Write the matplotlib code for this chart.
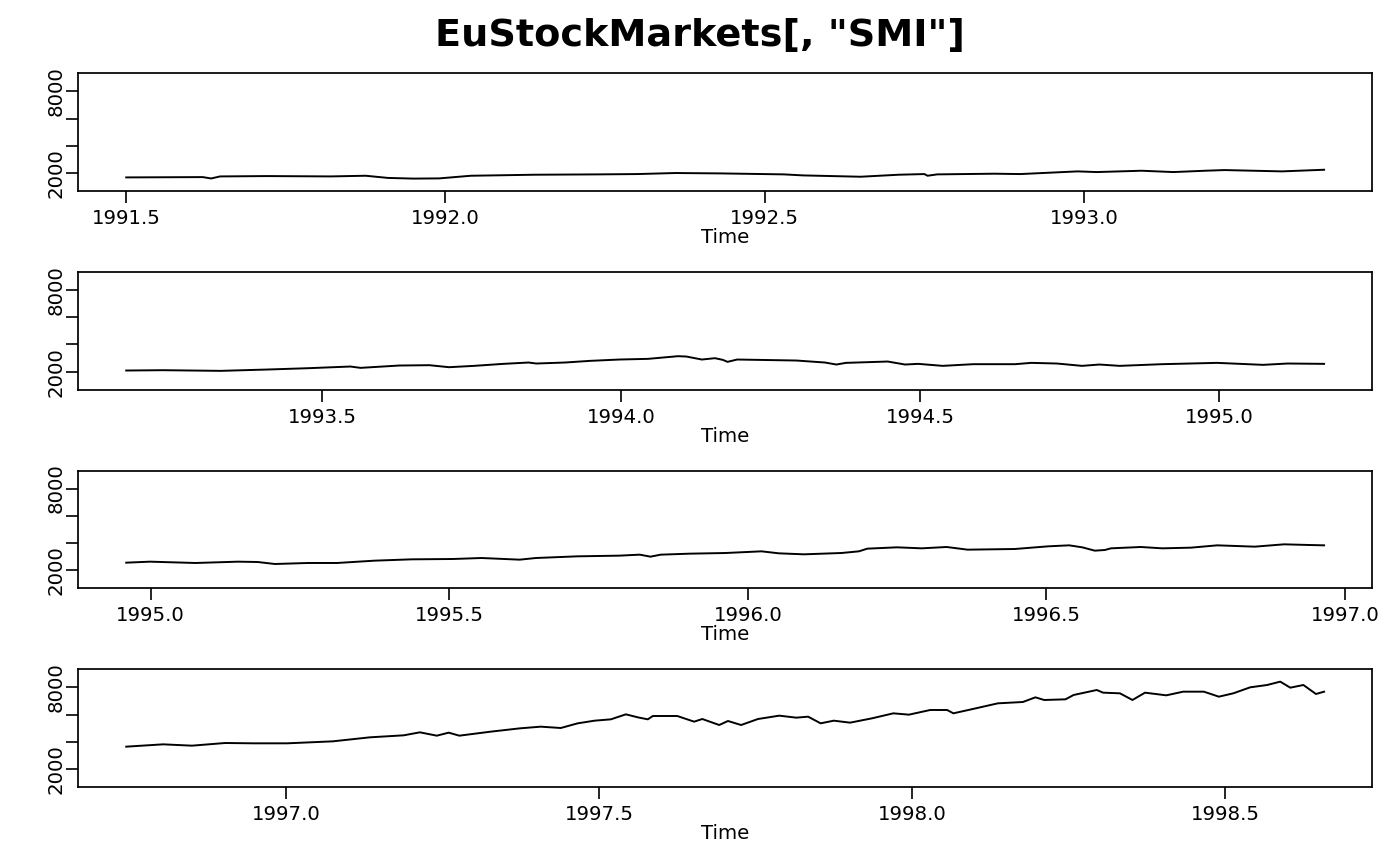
import matplotlib
matplotlib.use('Agg')
import matplotlib.pyplot as plt

# ======================
# DATA (SMI closing values)
# ======================
t1 = [1991.500, 1991.620, 1991.633, 1991.647, 1991.720, 1991.820, 1991.875, 1991.910,
      1991.950, 1991.990, 1992.040, 1992.140, 1992.240, 1992.300, 1992.360, 1992.430,
      1992.530, 1992.560, 1992.650, 1992.710, 1992.750, 1992.755, 1992.770, 1992.860,
      1992.900, 1992.990, 1993.020, 1993.090, 1993.140, 1993.190, 1993.220, 1993.310,
      1993.376]
v1 = [1678, 1700, 1600, 1750, 1776, 1750, 1800, 1640,
      1590, 1605, 1800, 1875, 1900, 1923, 2000, 1972,
      1900, 1825, 1727, 1875, 1923, 1800, 1900, 1950,
      1923, 2120, 2070, 2168, 2070, 2168, 2217, 2120,
      2240]

t2 = [1993.172, 1993.234, 1993.330, 1993.408, 1993.477, 1993.547, 1993.564, 1993.629,
      1993.679, 1993.712, 1993.754, 1993.803, 1993.845, 1993.858, 1993.906, 1993.948,
      1993.997, 1994.045, 1994.095, 1994.109, 1994.135, 1994.157, 1994.170, 1994.178,
      1994.194, 1994.293, 1994.341, 1994.360, 1994.376, 1994.446, 1994.475, 1994.497,
      1994.538, 1994.589, 1994.659, 1994.686, 1994.729, 1994.771, 1994.800, 1994.834,
      1994.905, 1994.997, 1995.074, 1995.115, 1995.176]
v2 = [2088, 2112, 2063, 2161, 2259, 2381, 2283, 2455,
      2479, 2332, 2430, 2577, 2675, 2602, 2675, 2797,
      2895, 2944, 3140, 3115, 2895, 2993, 2871, 2724,
      2895, 2822, 2675, 2528, 2650, 2748, 2528, 2577,
      2430, 2553, 2553, 2650, 2602, 2430, 2528, 2430,
      2553, 2650, 2504, 2602, 2577]

t3 = [1994.959, 1994.999, 1995.075, 1995.146, 1995.179, 1995.208, 1995.263, 1995.312,
      1995.375, 1995.437, 1995.506, 1995.554, 1995.618, 1995.645, 1995.715, 1995.784,
      1995.819, 1995.837, 1995.854, 1995.903, 1995.962, 1996.023, 1996.052, 1996.094,
      1996.157, 1996.186, 1996.200, 1996.250, 1996.291, 1996.333, 1996.368, 1996.447,
      1996.503, 1996.538, 1996.560, 1996.581, 1996.598, 1996.608, 1996.658, 1996.694,
      1996.742, 1996.786, 1996.849, 1996.898, 1996.940, 1996.965]
v3 = [2562, 2635, 2538, 2635, 2611, 2464, 2538, 2538,
      2709, 2806, 2831, 2904, 2782, 2904, 3027, 3076,
      3149, 3002, 3149, 3223, 3270, 3394, 3247, 3174,
      3272, 3394, 3590, 3688, 3614, 3712, 3516, 3565,
      3761, 3834, 3688, 3443, 3492, 3614, 3712, 3614,
      3663, 3834, 3737, 3908, 3859, 3834]

t4 = [1996.745, 1996.804, 1996.850, 1996.903, 1996.949, 1997.002, 1997.075, 1997.134,
      1997.188, 1997.214, 1997.241, 1997.260, 1997.277, 1997.327, 1997.374, 1997.407,
      1997.439, 1997.466, 1997.493, 1997.519, 1997.543, 1997.562, 1997.578, 1997.586,
      1997.625, 1997.652, 1997.665, 1997.692, 1997.706, 1997.727, 1997.754, 1997.788,
      1997.815, 1997.834, 1997.854, 1997.875, 1997.901, 1997.936, 1997.970, 1997.995,
      1998.029, 1998.056, 1998.066, 1998.097, 1998.137, 1998.177, 1998.197, 1998.211,
      1998.245, 1998.258, 1998.295, 1998.305, 1998.332, 1998.352, 1998.372, 1998.406,
      1998.433, 1998.466, 1998.490, 1998.513, 1998.540, 1998.567, 1998.588, 1998.604,
      1998.625, 1998.645, 1998.658]
v4 = [3641, 3812, 3714, 3910, 3886, 3886, 4032, 4326,
      4473, 4693, 4448, 4669, 4448, 4742, 4987, 5109,
      5011, 5354, 5549, 5647, 6014, 5794, 5647, 5892,
      5892, 5476, 5672, 5231, 5525, 5231, 5672, 5917,
      5770, 5843, 5354, 5549, 5403, 5721, 6088, 5990,
      6333, 6333, 6088, 6406, 6822, 6920, 7262, 7067,
      7116, 7434, 7801, 7605, 7556, 7067, 7605, 7409,
      7678, 7678, 7311, 7556, 7997, 8168, 8413, 7972,
      8168, 7507, 7678]

panels = [(t1, v1), (t2, v2), (t3, v3), (t4, v4)]

x_ticks = [
    [1991.5, 1992.0, 1992.5, 1993.0],
    [1993.5, 1994.0, 1994.5, 1995.0],
    [1995.0, 1995.5, 1996.0, 1996.5, 1997.0],
    [1997.0, 1997.5, 1998.0, 1998.5],
]
y_ticks = [2000, 4000, 6000, 8000]
y_tick_labels = ['2000', '', '', '8000']
y_range = (1000, 9000)

title = 'EuStockMarkets[, "SMI"]'

# ======================
# FIGURE
# ======================
plt.rcParams['font.family'] = ['DejaVu Sans']
fig = plt.figure(figsize=(14, 8.66), dpi=100)

left = 78.3 / 1400
width = (1372 - 78.3) / 1400
height = 117.7 / 866
bottoms = [191, 389.7, 588.3, 787]

yspan = y_range[1] - y_range[0]
ylim = (y_range[0] - 0.04 * yspan, y_range[1] + 0.04 * yspan)

for (t, v), ticks, b in zip(panels, x_ticks, bottoms):
    ax = fig.add_axes([left, 1 - b / 866, width, height])
    ax.plot(t, v, color='black', linewidth=1.4)

    span = t[-1] - t[0]
    ax.set_xlim(t[0] - 0.04 * span, t[-1] + 0.04 * span)
    ax.set_ylim(*ylim)

    ax.set_xticks(ticks)
    ax.set_xticklabels(['%.1f' % x for x in ticks])
    ax.set_yticks(y_ticks)
    ax.set_yticklabels(y_tick_labels, rotation=90, va='center')

    ax.tick_params(axis='both', direction='out', length=8.4, width=1.2,
                   labelsize=14.2, color='black')
    ax.tick_params(axis='x', pad=4.5)
    ax.tick_params(axis='y', pad=1.0)
    for s in ax.spines.values():
        s.set_linewidth(1.25)
    ax.set_xlabel('Time', fontsize=14.2, labelpad=0)

fig.text(0.5, 1 - 36 / 866, title, ha='center', va='center',
         fontsize=27.5, fontweight='bold')

fig.savefig('out.png', dpi=100)
